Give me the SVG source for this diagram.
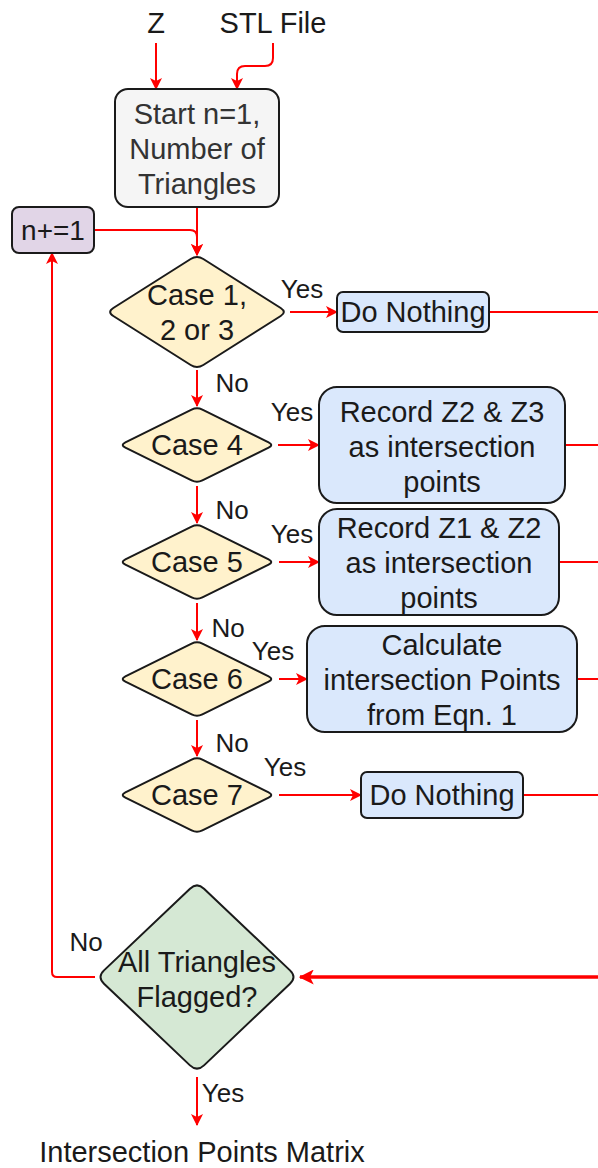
<svg xmlns="http://www.w3.org/2000/svg" width="598" height="1168" viewBox="0 0 598 1168">
  <style>
    text { font-family: "Liberation Sans", Arial, sans-serif; font-size: 29px; fill: #1a1a1a; text-anchor: middle; }
    .lbl { font-size: 26px; }
    .muted { fill: #333333; }
    .shape { stroke: #1a1a1a; stroke-width: 2; }
    .gray { fill: #f5f5f5; }
    .purple { fill: #e1d5e7; }
    .yellow { fill: #fff2cc; }
    .blue { fill: #dae8fc; }
    .green { fill: #d5e8d4; }
    .edge { fill: none; stroke: #ff0000; stroke-width: 2; }
    .bold { stroke-width: 3.5; }
    .arrow { marker-end: url(#head); }
    .arrow-lg { marker-end: url(#head-lg); }
  </style>
  <defs>
    <marker id="head" viewBox="0 0 12 12" markerWidth="12" markerHeight="12" refX="11" refY="6" orient="auto" markerUnits="userSpaceOnUse">
      <path d="M0,0 L12,6 L0,12 L3,6 Z" fill="#ff0000"/>
    </marker>
    <marker id="head-lg" viewBox="0 0 12 12" markerWidth="15" markerHeight="15" refX="11" refY="6" orient="auto" markerUnits="userSpaceOnUse">
      <path d="M0,0 L12,6 L0,12 L3,6 Z" fill="#ff0000"/>
    </marker>
    <!-- rounded rhombus used by the case checks -->
    <path id="case-diamond" d="M-5.4,-35.3 Q0,-38 5.4,-35.3 L71.6,-2.7 Q77,0 71.6,2.7 L5.4,35.3 Q0,38 -5.4,35.3 L-71.6,2.7 Q-77,0 -71.6,-2.7 Z"/>
  </defs>

  <!-- inputs -->
  <g id="input-z">
    <text x="156" y="33">Z</text>
  </g>
  <g id="input-stl">
    <text x="273" y="33">STL File</text>
  </g>

  <!-- connectors -->
  <g id="connectors">
    <path class="edge arrow" d="M156,43 V89"/>
    <path class="edge arrow" d="M273,43 V58 Q273,66 265,66 H245 Q237,66 237,74 V89"/>
    <path class="edge arrow" d="M197,207 V255"/>
    <path class="edge arrow" d="M94,230 H190 Q197,230 197,237 V255"/>
    <path class="edge arrow" d="M290,312 H337"/>
    <path class="edge" d="M489,312 H598"/>
    <path class="edge arrow" d="M197,370 V406"/>
    <path class="edge arrow" d="M278,445 H319"/>
    <path class="edge" d="M565,445 H598"/>
    <path class="edge arrow" d="M197,486 V523"/>
    <path class="edge arrow" d="M279,562 H319"/>
    <path class="edge" d="M559,562 H598"/>
    <path class="edge arrow" d="M197,603 V640"/>
    <path class="edge arrow" d="M279,679 H307"/>
    <path class="edge" d="M577,679 H598"/>
    <path class="edge arrow" d="M197,720 V756"/>
    <path class="edge arrow" d="M279,795 H361"/>
    <path class="edge" d="M523,795 H598"/>
    <path class="edge bold arrow-lg" d="M598,977 H300"/>
    <path class="edge arrow" d="M95,977 H57 Q52,977 52,972 V253"/>
    <path class="edge arrow" d="M197,1077 V1125"/>
  </g>

  <!-- edge labels -->
  <g id="edge-labels">
    <text class="lbl" x="302" y="298">Yes</text>
    <text class="lbl" x="232" y="392">No</text>
    <text class="lbl" x="292" y="421">Yes</text>
    <text class="lbl" x="232" y="519">No</text>
    <text class="lbl" x="292" y="543">Yes</text>
    <text class="lbl" x="228" y="637">No</text>
    <text class="lbl" x="273" y="660">Yes</text>
    <text class="lbl" x="232" y="752">No</text>
    <text class="lbl" x="285" y="776">Yes</text>
    <text class="lbl" x="86" y="951">No</text>
    <text class="lbl" x="223" y="1102">Yes</text>
  </g>

  <g id="start">
    <rect class="shape gray" x="115" y="89" width="164" height="118" rx="13"/>
    <text class="muted" x="197" y="124">Start n=1,</text>
    <text class="muted" x="197" y="159">Number of</text>
    <text class="muted" x="197" y="194">Triangles</text>
  </g>

  <g id="increment">
    <rect class="shape purple" x="12" y="207" width="82" height="46" rx="7"/>
    <text x="53" y="240" style="font-size:28px">n+=1</text>
  </g>

  <g id="case-1-3">
    <path class="shape yellow" d="M190.7,259 Q197,255 203.3,259 L280.7,308 Q287,312 280.7,316 L203.3,365 Q197,369 190.7,365 L113.3,316 Q107,312 113.3,308 Z"/>
    <text x="197" y="305">Case 1,</text>
    <text x="197" y="340">2 or 3</text>
  </g>
  <g id="nothing-1">
    <rect class="shape blue" x="337" y="292" width="152" height="40" rx="6"/>
    <text x="413" y="322">Do Nothing</text>
  </g>

  <g id="case-4">
    <use href="#case-diamond" class="shape yellow" x="197" y="445"/>
    <text x="197" y="455">Case 4</text>
  </g>
  <g id="record-z2-z3">
    <rect class="shape blue" x="319" y="387" width="246" height="116" rx="18"/>
    <text x="442" y="422">Record Z2 &amp; Z3</text>
    <text x="442" y="457">as intersection</text>
    <text x="442" y="492">points</text>
  </g>

  <g id="case-5">
    <use href="#case-diamond" class="shape yellow" x="197" y="562"/>
    <text x="197" y="572">Case 5</text>
  </g>
  <g id="record-z1-z2">
    <rect class="shape blue" x="319" y="509" width="240" height="106" rx="18"/>
    <text x="439" y="538">Record Z1 &amp; Z2</text>
    <text x="439" y="573">as intersection</text>
    <text x="439" y="608">points</text>
  </g>

  <g id="case-6">
    <use href="#case-diamond" class="shape yellow" x="197" y="679"/>
    <text x="197" y="689">Case 6</text>
  </g>
  <g id="calculate">
    <rect class="shape blue" x="307" y="626" width="270" height="106" rx="18"/>
    <text x="442" y="655">Calculate</text>
    <text x="442" y="690">intersection Points</text>
    <text x="442" y="725">from Eqn. 1</text>
  </g>

  <g id="case-7">
    <use href="#case-diamond" class="shape yellow" x="197" y="795"/>
    <text x="197" y="805">Case 7</text>
  </g>
  <g id="nothing-2">
    <rect class="shape blue" x="361" y="772" width="162" height="46" rx="6"/>
    <text x="442" y="805">Do Nothing</text>
  </g>

  <g id="all-flagged">
    <path class="shape green" d="M190,888.65 Q197,882 204,888.65 L290,970.35 Q297,977 290,983.65 L204,1065.35 Q197,1072 190,1065.35 L104,983.65 Q97,977 104,970.35 Z"/>
    <text x="197" y="972">All Triangles</text>
    <text x="197" y="1007">Flagged?</text>
  </g>

  <g id="output">
    <text x="202" y="1162">Intersection Points Matrix</text>
  </g>
</svg>
